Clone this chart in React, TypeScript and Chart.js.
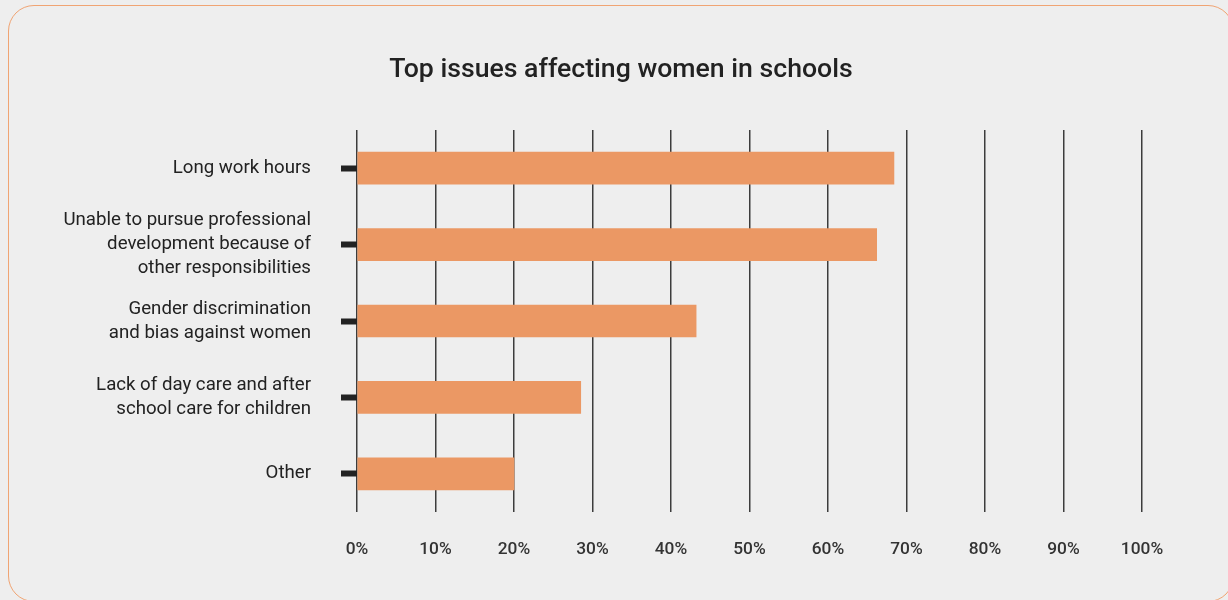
import React, { useEffect, useRef } from 'react';
import { Chart, registerables } from 'chart.js';

Chart.register(...registerables);

const titleText = 'Top issues affecting women in schools';

const categories: string[][] = [
  ['Long work hours'],
  ['Unable to pursue professional', 'development because of', 'other responsibilities'],
  ['Gender discrimination', 'and bias against women'],
  ['Lack of day care and after', 'school care for children'],
  ['Other'],
];

const values: number[] = [68.4, 66.2, 43.2, 28.5, 20];

const xMin = 0;
const xMax = 100;
const xStep = 10;
const tickSuffix = '%';

const barColor = '#eb9864';

export default function App() {
  const canvasRef = useRef<HTMLCanvasElement | null>(null);

  useEffect(() => {
    const canvas = canvasRef.current;
    if (!canvas) return;
    Chart.defaults.font.family = 'Roboto';
    const chart = new Chart(canvas, {
      type: 'bar',
      data: {
        labels: categories,
        datasets: [
          {
            data: values,
            backgroundColor: barColor,
            borderWidth: 0,
            barThickness: 32,
          },
        ],
      },
      options: {
        indexAxis: 'y',
        responsive: false,
        animation: false,
        layout: { padding: { left: 14, right: 0, top: 0, bottom: 0 } },
        plugins: {
          legend: { display: false },
          tooltip: { enabled: false },
          title: {
            display: true,
            text: titleText,
            color: '#222222',
            font: { family: 'Roboto', size: 26.67, weight: 500, lineHeight: 1.2 },
            padding: { top: 54, bottom: 44 },
          },
        },
        scales: {
          x: {
            type: 'linear',
            min: xMin,
            max: xMax,
            z: 1,
            ticks: {
              stepSize: xStep,
              callback: (v: any) => v + tickSuffix,
              padding: 27,
              color: '#333333',
              font: { family: 'Roboto', size: 17.33, weight: 500 },
              maxRotation: 0,
            },
            grid: { color: '#3c3c3c', lineWidth: 1.5, drawTicks: false },
            border: { display: false },
            afterFit: (s: any) => {
              s.height = 88;
            },
          },
          y: {
            type: 'category',
            grid: {
              offset: false,
              drawOnChartArea: false,
              drawTicks: true,
              tickLength: 16,
              tickWidth: 6,
              tickColor: '#222222',
            },
            border: { display: false },
            ticks: {
              padding: 30,
              color: '#222222',
              font: { family: 'Roboto', size: 18.67, lineHeight: 1.286 },
            },
            afterFit: (s: any) => {
              s.width = 343;
            },
          },
          y2: {
            type: 'category',
            position: 'right',
            display: true,
            grid: { display: false },
            ticks: { display: false },
            border: { display: false },
            afterFit: (s: any) => {
              s.width = 86;
            },
          },
        },
      },
    });
    return () => chart.destroy();
  }, []);

  return (
    <div style={{ position: 'fixed', inset: 0, overflow: 'hidden', background: '#eeeeee' }}>
      <div
        style={{
          position: 'absolute',
          left: 8,
          top: 5,
          width: 1226,
          height: 597,
          border: '1.5px solid #f0a473',
          borderRadius: 26,
          boxSizing: 'border-box',
        }}
      />
      <canvas
        ref={canvasRef}
        width={1228}
        height={600}
        style={{ position: 'absolute', left: 0, top: 0, width: 1228, height: 600 }}
      />
    </div>
  );
}
